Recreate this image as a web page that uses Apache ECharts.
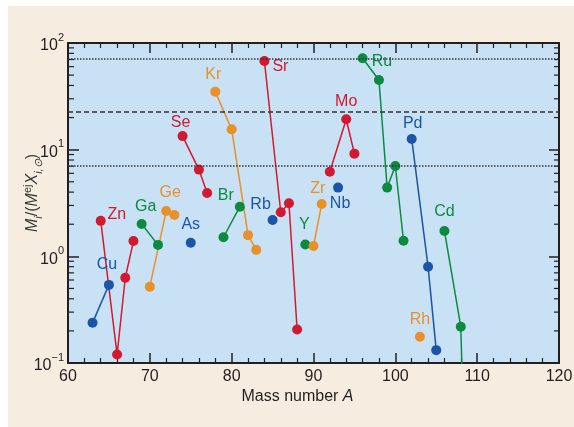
<!DOCTYPE html>
<html>
<head>
<meta charset="utf-8">
<script src="https://cdn.jsdelivr.net/npm/echarts@6/dist/echarts.min.js"></script>
<style>
html,body{margin:0;padding:0;background:#fff;}
#c{width:574px;height:427px;}
</style>
</head>
<body>
<div id="c"></div>
<script>
// ---------- data ----------
const xTicks = [60, 70, 80, 90, 100, 110, 120];
const yDecades = [0.1, 1, 10, 100];
const yMinorTicks = [0.2,0.3,0.4,0.5,0.6,0.7,0.8,0.9,2,3,4,5,6,7,8,9,20,30,40,50,60,70,80,90];
const refLines = [71, 22.5, 7.1];

const massCu = [63, 65];            const valCu = [0.238, 0.54];
const massZn = [64, 66, 67, 68];    const valZn = [2.15, 0.12, 0.63, 1.39];
const massGa = [69, 71];            const valGa = [2.01, 1.28];
const massGe = [70, 72, 73];        const valGe = [0.52, 2.66, 2.44];
const massAs = [75];                const valAs = [1.34];
const massSe = [74, 76, 77];        const valSe = [13.4, 6.5, 3.93];
const massBr = [79, 81];            const valBr = [1.51, 2.92];
const massKr = [78, 80, 82, 83];    const valKr = [35, 15.5, 1.58, 1.15];
const massRb = [85];                const valRb = [2.19];
const massSr = [84, 86, 87, 88];    const valSr = [67.8, 2.59, 3.14, 0.206];
const massY  = [89];                const valY  = [1.29];
const massZr = [90, 91];            const valZr = [1.25, 3.10];
const massNb = [93];                const valNb = [4.41];
const massMo = [92, 94, 95];        const valMo = [6.22, 19.3, 9.18];
const massRu = [96, 98, 99, 100, 101]; const valRu = [71.9, 45, 4.41, 7.03, 1.40];
const massRh = [103];               const valRh = [0.176];
const massPd = [102, 104, 105];     const valPd = [12.6, 0.80, 0.132];
const massCd = [106, 108, 110];     const valCd = [1.73, 0.219, 6e-7];

const elements = [
  ['Cu', massCu, valCu, 'blue'],
  ['Zn', massZn, valZn, 'red'],
  ['Ga', massGa, valGa, 'green'],
  ['Ge', massGe, valGe, 'orange'],
  ['As', massAs, valAs, 'blue'],
  ['Se', massSe, valSe, 'red'],
  ['Br', massBr, valBr, 'green'],
  ['Kr', massKr, valKr, 'orange'],
  ['Rb', massRb, valRb, 'blue'],
  ['Sr', massSr, valSr, 'red'],
  ['Y',  massY,  valY,  'green'],
  ['Zr', massZr, valZr, 'orange'],
  ['Nb', massNb, valNb, 'blue'],
  ['Mo', massMo, valMo, 'red'],
  ['Ru', massRu, valRu, 'green'],
  ['Rh', massRh, valRh, 'orange'],
  ['Pd', massPd, valPd, 'blue'],
  ['Cd', massCd, valCd, 'green']
];

// ---------- layout / style ----------
const palette = { red: '#d2192f', blue: '#1c54a6', green: '#0b8a40', orange: '#e8912a' };
// label anchor point index and pixel offset from that point
const labelLayout = {
  Cu: [1, [-2, -20]], Zn: [0, [16, -6]], Ga: [0, [4, -17]], Ge: [1, [4, -18]],
  As: [0, [0, -18]], Se: [0, [-2, -14]], Br: [1, [-14, -11]], Kr: [0, [-2, -17]],
  Rb: [0, [-12, -15]], Sr: [0, [16, 6]], Y: [0, [-1, -20]], Zr: [1, [-4, -15]],
  Nb: [0, [2, 16]], Mo: [1, [0, -18]], Ru: [1, [3, -18]], Rh: [0, [0, -17]],
  Pd: [0, [1, -15]], Cd: [0, [0, -19]]
};
const FONT = "'Liberation Sans Narrow', 'Liberation Sans', sans-serif";
const INK = '#231f20';
const FS = 16;
const xMin = 60, xMax = 120;

const chart = echarts.init(document.getElementById('c'), null, { renderer: 'canvas' });

const series = elements.map(([name, mass, vals, col]) => {
  const [ai, off] = labelLayout[name];
  return {
    type: 'line',
    name: name,
    z: 3,
    symbol: 'circle',
    symbolSize: 10,
    color: palette[col],
    lineStyle: { width: 1.5, color: palette[col] },
    itemStyle: { color: palette[col] },
    emphasis: { disabled: true },
    animation: false,
    clip: true,
    data: mass.map((m, i) => {
      const item = { value: [m, vals[i]] };
      if (i === ai) {
        item.label = {
          show: true, position: 'inside', offset: off, formatter: name,
          color: palette[col], fontSize: FS, fontFamily: FONT
        };
      }
      return item;
    })
  };
});

series.unshift({
  type: 'custom',
  z: 1,
  silent: true,
  animation: false,
  clip: false,
  encode: { x: 0, y: 1 },
  data: yMinorTicks.map(v => [xMin, v]),
  renderItem: (params, api) => {
    const v = api.value(1);
    const L = api.coord([xMin, v]);
    const R = api.coord([xMax, v]);
    const st = { stroke: INK, lineWidth: 1.2 };
    return {
      type: 'group',
      children: [
        { type: 'line', shape: { x1: L[0], y1: L[1], x2: L[0] + 6, y2: L[1] }, style: st },
        { type: 'line', shape: { x1: R[0], y1: R[1], x2: R[0] - 5, y2: R[1] }, style: st }
      ]
    };
  },
  markLine: {
    silent: true,
    symbol: 'none',
    animation: false,
    label: { show: false },
    data: refLines.map((v, i) => ({
      yAxis: v,
      lineStyle: { color: '#333', width: 1.5, type: i === 1 ? [5, 3] : [1.5, 1.5] }
    }))
  }
});

const yLabelRich = {
  b: { fontSize: FS, fontFamily: FONT, color: INK, lineHeight: 22, verticalAlign: 'bottom' },
  s: { fontSize: 11, fontFamily: FONT, color: INK, lineHeight: 22, verticalAlign: 'top', padding: [0, 0, 8, 0] }
};

const option = {
  backgroundColor: '#f6ecdf',
  animation: false,
  graphic: [
    { type: 'rect', shape: { x: 0, y: 0, width: 574, height: 6 }, style: { fill: '#ffffff' }, silent: true },
    { type: 'rect', shape: { x: 0, y: 0, width: 8, height: 427 }, style: { fill: '#ffffff' }, silent: true }
  ],
  grid: {
    left: 68, right: 15, top: 43, bottom: 64, show: true,
    backgroundColor: '#c8e1f4', borderWidth: 0,
    containLabel: false, outerBoundsMode: 'none'
  },
  xAxis: [
    {
      type: 'value', min: xMin, max: xMax, interval: 10, position: 'bottom',
      axisLine: { show: true, onZero: false, lineStyle: { color: INK, width: 2 } },
      axisTick: { show: true, inside: true, length: 10, lineStyle: { color: INK, width: 1.5 } },
      minorTick: { show: true, splitNumber: 5, length: 5, lineStyle: { color: INK, width: 1.2 } },
      splitLine: { show: false },
      axisLabel: { color: INK, fontSize: FS, fontFamily: FONT, margin: 6 },
      name: '{n|Mass number }{a|A}',
      nameLocation: 'middle', nameGap: 26, nameMoveOverlap: false,
      nameTextStyle: {
        padding: [0, 32, 0, 0],
        rich: {
          n: { fontSize: FS, fontFamily: FONT, color: INK },
          a: { fontSize: FS, fontFamily: FONT, color: INK, fontStyle: 'italic' }
        }
      }
    },
    {
      type: 'value', min: xMin, max: xMax, interval: 10, position: 'top',
      axisLine: { show: true, onZero: false, lineStyle: { color: INK, width: 2 } },
      axisTick: { show: true, inside: true, length: 10, lineStyle: { color: INK, width: 1.5 } },
      minorTick: { show: true, splitNumber: 5, length: 5, lineStyle: { color: INK, width: 1.2 } },
      splitLine: { show: false },
      axisLabel: { show: false }
    }
  ],
  yAxis: [
    {
      type: 'log', logBase: 10, min: yDecades[0], max: yDecades[yDecades.length - 1], position: 'left',
      axisLine: { show: true, onZero: false, lineStyle: { color: INK, width: 2 } },
      axisTick: { show: true, inside: true, length: 11, lineStyle: { color: INK, width: 1.5 } },
      splitLine: { show: false },
      axisLabel: {
        margin: 4,
        formatter: v => {
          const e = Math.round(Math.log10(v));
          return '{b|10}{s|' + (e < 0 ? '\u2212' + (-e) : e) + '}';
        },
        rich: yLabelRich
      },
      name: '{i|M}{sb|i}{n|/(}{i|M}{sp|ej}{i|X}{sb|i,\u2299}{n|)}',
      nameLocation: 'middle', nameRotate: 90, nameGap: 24, nameMoveOverlap: false,
      nameTextStyle: {
        padding: [0, 0, 0, 20],
        rich: {
          i: { fontSize: FS, fontFamily: FONT, color: '#3a3a3a', fontStyle: 'italic', lineHeight: 22, verticalAlign: 'middle' },
          n: { fontSize: FS, fontFamily: FONT, color: '#3a3a3a', lineHeight: 22, verticalAlign: 'middle' },
          sb: { fontSize: 11, fontFamily: FONT, color: '#3a3a3a', fontStyle: 'italic', lineHeight: 22, verticalAlign: 'bottom', padding: [8, 0, 0, 0] },
          sp: { fontSize: 11, fontFamily: FONT, color: '#3a3a3a', lineHeight: 22, verticalAlign: 'top', padding: [0, 0, 8, 0] }
        }
      }
    },
    {
      type: 'log', logBase: 10, min: yDecades[0], max: yDecades[yDecades.length - 1], position: 'right',
      axisLine: { show: true, onZero: false, lineStyle: { color: INK, width: 2 } },
      axisTick: { show: true, inside: true, length: 10, lineStyle: { color: INK, width: 1.5 } },
      splitLine: { show: false },
      axisLabel: { show: false }
    }
  ],
  series: series
};

chart.setOption(option);
</script>
</body>
</html>
